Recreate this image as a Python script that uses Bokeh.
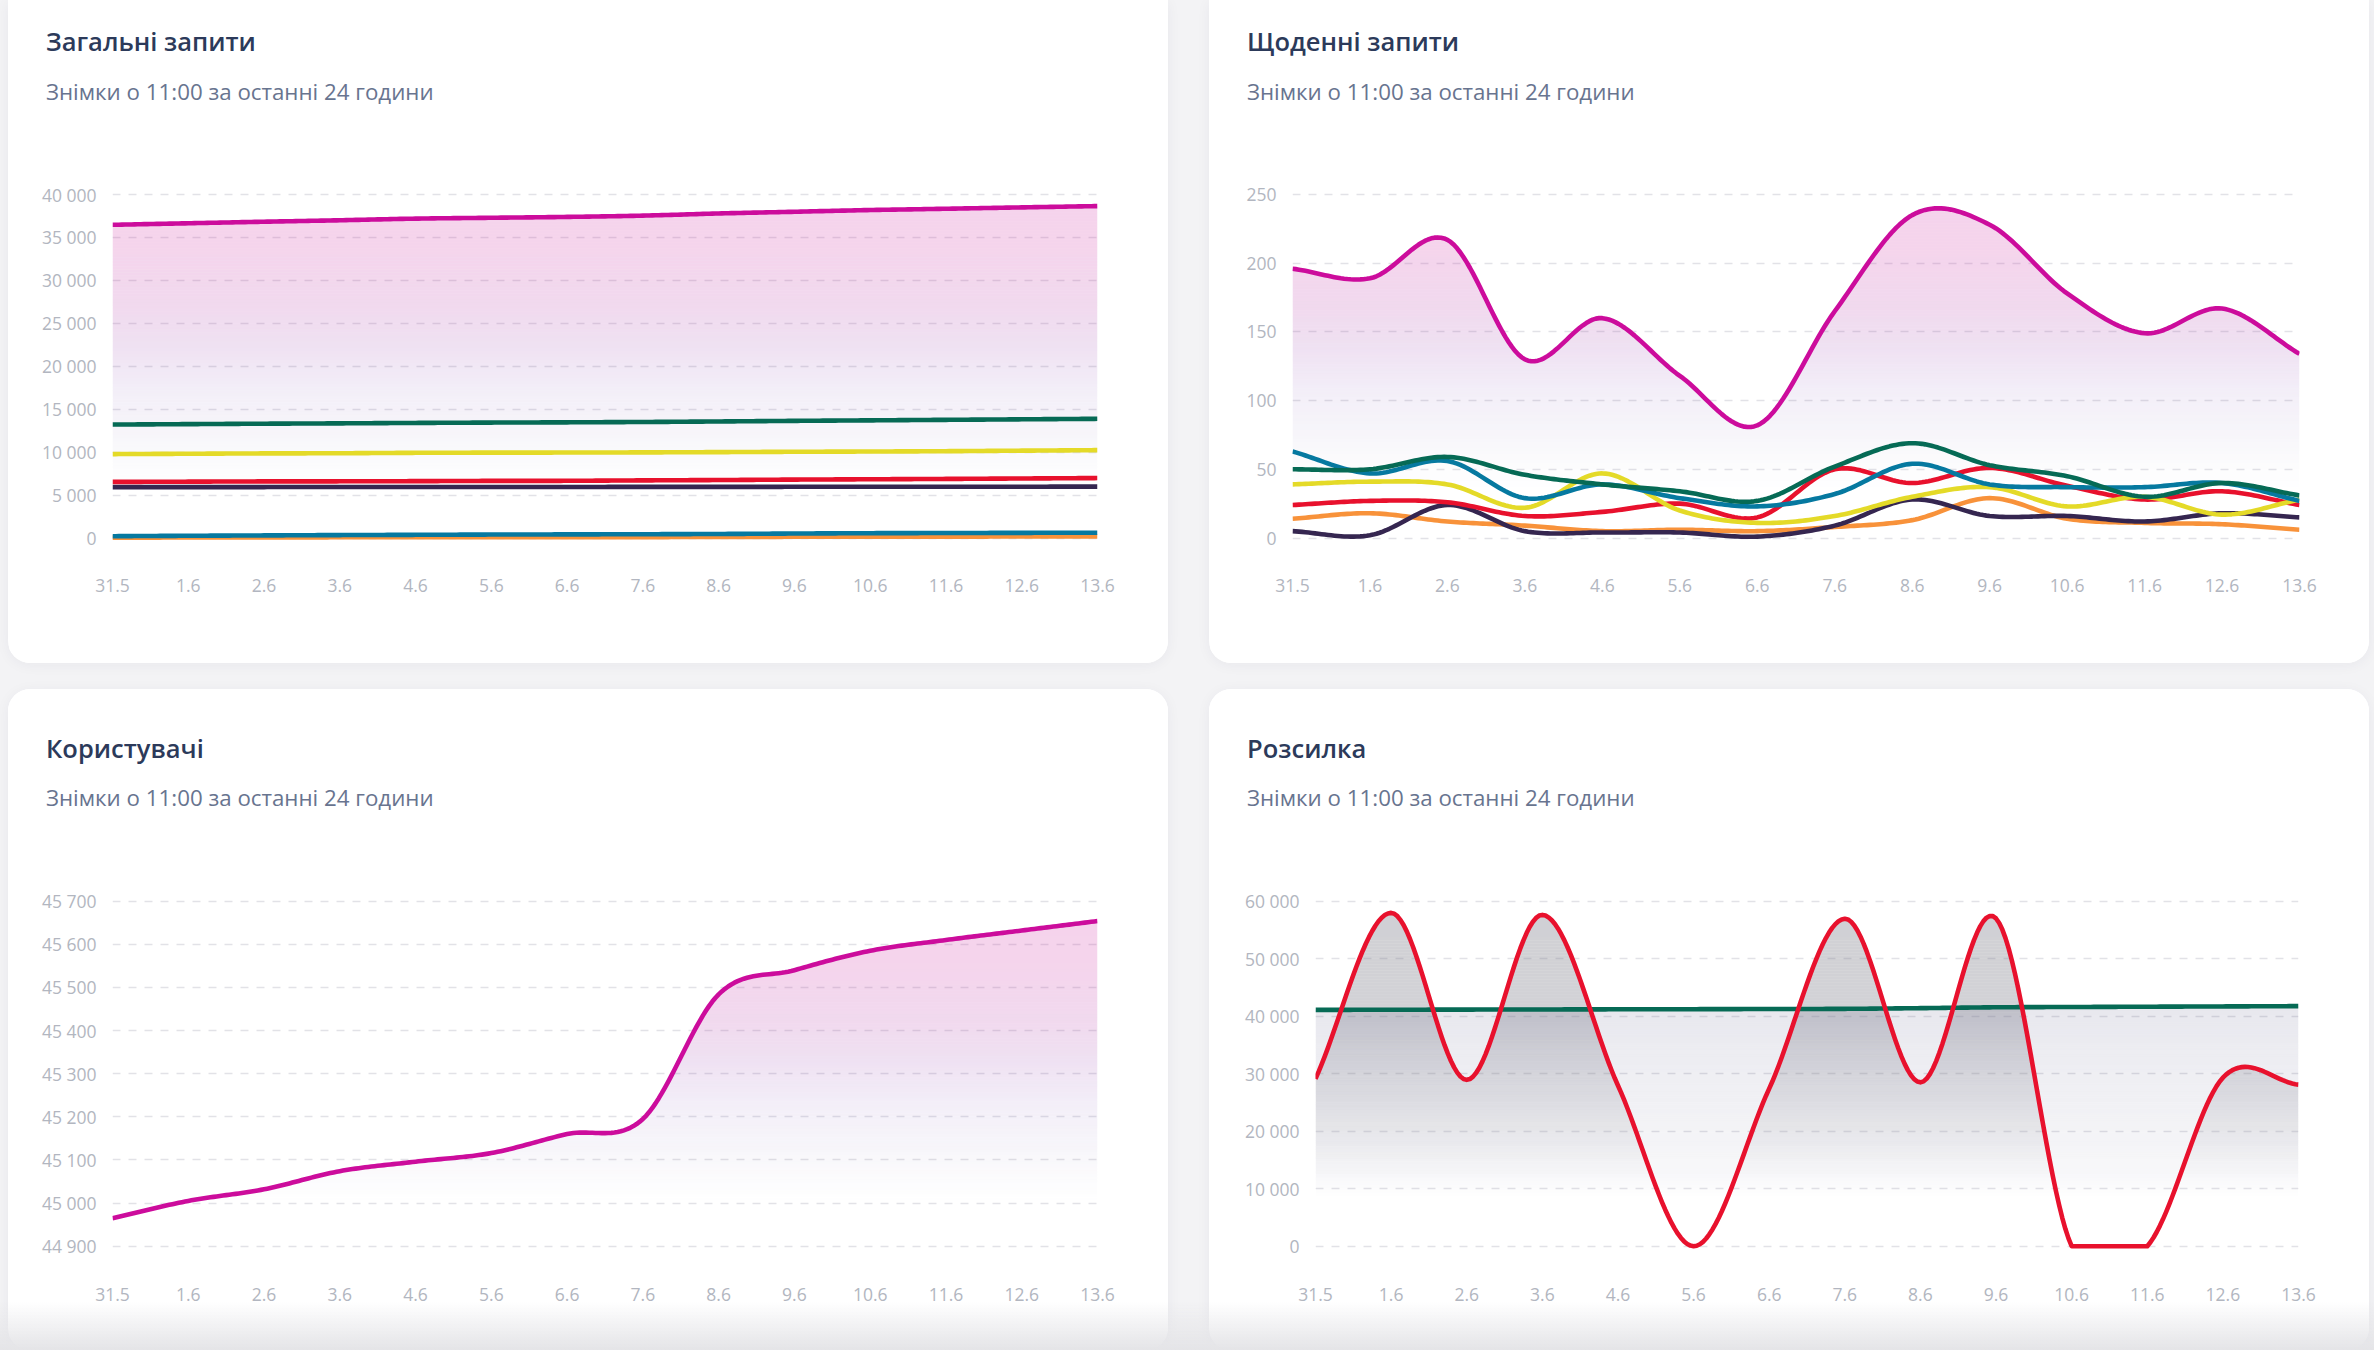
import numpy as np
from bokeh.plotting import figure
from bokeh.layouts import row, column
from bokeh.models import Range1d, FixedTicker, Spacer, Div, GlobalInlineStyleSheet
from bokeh.embed import file_html
from bokeh.resources import INLINE

# ---------------------------------------------------------------- data
dates = ["31.5", "1.6", "2.6", "3.6", "4.6", "5.6", "6.6",
         "7.6", "8.6", "9.6", "10.6", "11.6", "12.6", "13.6"]

# Загальні запити (running totals)
total_magenta = [36470, 36650, 36830, 37000, 37190, 37290, 37390, 37540, 37790, 37990, 38190, 38340, 38500, 38650]
total_green = [13210, 13260, 13310, 13350, 13400, 13440, 13470, 13510, 13570, 13640, 13700, 13760, 13820, 13880]
total_yellow = [9770, 9810, 9850, 9870, 9920, 9940, 9950, 9970, 10000, 10040, 10070, 10110, 10170, 10230]
total_red = [6530, 6560, 6590, 6600, 6620, 6650, 6660, 6710, 6750, 6800, 6840, 6880, 6930, 6980]
total_navy = [5920, 5925, 5930, 5935, 5940, 5940, 5945, 5950, 5955, 5960, 5965, 5970, 5975, 5980]
total_teal = [210, 260, 300, 340, 370, 400, 420, 440, 470, 520, 560, 580, 600, 620]
total_orange = [40, 55, 70, 80, 90, 95, 100, 105, 115, 140, 150, 160, 170, 175]

# Щоденні запити (per day)
daily_magenta = [196, 189, 217, 130, 160, 118, 82, 165, 235, 228, 178, 149, 167, 134]
daily_green = [50, 50, 59, 46, 39, 34, 27, 52, 69, 53, 45, 30, 40, 31]
daily_teal = [63, 47, 56, 29, 39, 29, 23, 32, 54, 39, 37, 37, 40, 27]
daily_yellow = [39, 41, 39, 22, 47, 20, 11, 16, 30, 37, 23, 30, 17, 28]
daily_red = [24, 27, 26, 16, 19, 25, 15, 50, 40, 51, 38, 28, 34, 24]
daily_navy = [5, 2, 24, 5, 4, 4, 1, 9, 28, 16, 16, 12, 18, 15]
daily_orange = [14, 18, 12, 9, 5, 6, 5, 8, 13, 29, 14, 11, 10, 6]

# Користувачі
users = [44965, 45005, 45032, 45074, 45096, 45116, 45160, 45195, 45484, 45540, 45585, 45610, 45632, 45654]

# Розсилка
mailing_sent = [29100, 57970, 28930, 57620, 27950, 0, 27400, 56950, 28500, 57000, 0, 0, 29300, 28100]
mailing_subscribers = [41100, 41120, 41150, 41170, 41200, 41220, 41250, 41280, 41400, 41550, 41600, 41650, 41700, 41750]

total_ticks = [0, 5000, 10000, 15000, 20000, 25000, 30000, 35000, 40000]
daily_ticks = [0, 50, 100, 150, 200, 250]
users_ticks = [44900, 45000, 45100, 45200, 45300, 45400, 45500, 45600, 45700]
mailing_ticks = [0, 10000, 20000, 30000, 40000, 50000, 60000]

TITLE_TEXT = ["Загальні запити", "Щоденні запити", "Користувачі", "Розсилка"]
SUBTITLE = "Знімки о 11:00 за останні 24 години"

# ---------------------------------------------------------------- style
MAGENTA = "#cc0c9c"
GREEN = "#066a55"
YELLOW = "#e4da28"
RED = "#e8112d"
NAVY = "#352650"
TEAL = "#0679a0"
ORANGE = "#f8923a"

FONT = "Open Sans"
TITLE_COLOR = "#2c3a5a"
SUB_COLOR = "#68748f"
TICK_COLOR = "#b2b6c0"
GRID_COLOR = "#e2e2e7"
PAGE_BG = "#f3f3f5"
LINE_W = 4.6
CARD_W = 1160
TITLE_PX = 25.5
SUB_PX = 22.3


def smooth(values, floor=None, per=24):
    """Cubic Hermite (Catmull-Rom) path through the points at x = 0..n-1."""
    y = np.asarray(values, dtype=float)
    n = len(y)
    m = np.empty(n)
    m[1:-1] = (y[2:] - y[:-2]) / 2.0
    m[0] = y[1] - y[0]
    m[-1] = y[-1] - y[-2]
    t = np.arange(per) / per
    h00 = 2 * t**3 - 3 * t**2 + 1
    h10 = t**3 - 2 * t**2 + t
    h01 = -2 * t**3 + 3 * t**2
    h11 = t**3 - t**2
    xs, ys = [], []
    for i in range(n - 1):
        xs.append(i + t)
        ys.append(h00 * y[i] + h10 * m[i] + h01 * y[i + 1] + h11 * m[i + 1])
    xs.append(np.array([n - 1.0]))
    ys.append(np.array([y[-1]]))
    xs = np.concatenate(xs)
    ys = np.concatenate(ys)
    if floor is not None:
        ys = np.maximum(ys, floor)
    return xs, ys


def hex_rgb(h):
    return np.array([int(h[i:i + 2], 16) for i in (1, 3, 5)], dtype=float)


PINK_STOPS = [(0.0, "#f5d3ec"), (0.12, "#f5d4ec"), (0.30, "#f1d9ee"), (0.42, "#efe1f2"),
              (0.55, "#f3eef8"), (0.69, "#f7f6fa"), (0.80, "#fdfdfe"), (0.86, "#ffffff")]


def pink_shade(t):
    ts = [s[0] for s in PINK_STOPS]
    cols = np.array([hex_rgb(s[1]) for s in PINK_STOPS])
    target = np.array([np.interp(t, ts, cols[:, k]) for k in range(3)])
    deficit = 255.0 - target
    mx = deficit.max()
    if mx < 0.6:
        return None
    a = mx / (255.0 * 0.8)
    c = np.clip(255.0 - deficit / a, 0, 255)
    return "#%02x%02x%02x" % tuple(int(round(v)) for v in c), a


def ramp(color, stops):
    ts = [s[0] for s in stops]
    al = [s[1] for s in stops]

    def shade(t):
        a = float(np.interp(t, ts, al))
        return None if a < 0.004 else (color, a)
    return shade


def gradient_area(p, xs, ys, base, shade, bands=110):
    top = ys.max()
    edges = np.linspace(base, top, bands + 1)
    for lo, hi in zip(edges[:-1], edges[1:]):
        t = (top - 0.5 * (lo + hi)) / (top - base)
        s = shade(t)
        if s is None:
            continue
        color, a = s
        p.varea(x=xs, y1=np.full(xs.shape, lo), y2=np.clip(ys, lo, hi),
                fill_color=color, fill_alpha=a)


def fmt(v):
    return f"{v:,}".replace(",", " ")


def header(title, height, title_base):
    """Card heading: title and subtitle, positioned by their baselines."""
    asc = 0.888  # baseline offset (em) of Open Sans at line-height 1
    t_top = title_base - asc * TITLE_PX
    s_top = title_base + 49 - asc * SUB_PX
    common = "position:absolute;left:38px;font-family:'Open Sans',sans-serif;line-height:1;white-space:nowrap;"
    html = (
        f'<div style="position:relative;width:{CARD_W}px;height:{height}px;">'
        f'<div style="{common}top:{t_top:.1f}px;font-size:{TITLE_PX}px;font-weight:600;color:{TITLE_COLOR};">{title}</div>'
        f'<div style="{common}top:{s_top:.1f}px;font-size:{SUB_PX}px;font-weight:400;color:{SUB_COLOR};">{SUBTITLE}</div>'
        '</div>'
    )
    return Div(text=html, width=CARD_W, height=height, margin=(0, 0, 0, 0),
               styles={"background-color": "white"})


def chart(height, fl, fr, gy_top, gy_bot, ticks):
    y_lo, y_hi = ticks[0], ticks[-1]
    pad = 5
    top_b = int(round(gy_top - pad))
    bot_b = int(round(gy_bot + pad))
    u = (y_hi - y_lo) / (gy_bot - gy_top)
    yr = Range1d(y_lo - (bot_b - gy_bot) * u, y_hi + (gy_top - top_b) * u)
    n_last = len(dates) - 1
    p = figure(width=CARD_W, height=height, x_range=Range1d(0, n_last), y_range=yr,
               output_backend="svg", toolbar_location=None,
               min_border_left=fl, min_border_right=CARD_W - fr,
               min_border_top=top_b, min_border_bottom=height - bot_b)
    p.outline_line_color = None
    p.background_fill_color = "white"
    p.border_fill_color = "white"

    yt = FixedTicker(ticks=ticks)
    p.yaxis.ticker = yt
    p.ygrid.ticker = yt
    p.yaxis.major_label_overrides = {t: fmt(t) for t in ticks}
    xt = FixedTicker(ticks=list(range(len(dates))))
    p.xaxis.ticker = xt
    p.xaxis.major_label_overrides = {i: d for i, d in enumerate(dates)}

    for ax in (p.xaxis[0], p.yaxis[0]):
        ax.axis_line_color = None
        ax.major_tick_line_color = None
        ax.minor_tick_line_color = None
        ax.major_tick_in = 0
        ax.major_tick_out = 0
        ax.major_label_text_font = FONT
        ax.major_label_text_font_size = "17.5px"
        ax.major_label_text_color = TICK_COLOR
    p.yaxis.major_label_standoff = 16
    p.xaxis.major_label_standoff = 36

    p.xgrid.grid_line_color = None
    p.ygrid.grid_line_color = GRID_COLOR
    p.ygrid.grid_line_width = 1.6
    p.ygrid.grid_line_dash = "8 8"
    return p


def draw_line(p, values, color, floor=0):
    xs, ys = smooth(values, floor=floor)
    p.line(xs, ys, line_color=color, line_width=LINE_W, line_join="round")


def make_card(head, body, top_card):
    radius = "0 0 22px 22px" if top_card else "22px"
    return column(head, body, spacing=0,
                  styles={"border-radius": radius, "overflow": "hidden", "background-color": "white",
                          "box-shadow": "0 2px 14px rgba(30, 30, 70, 0.05)"})


# ---------------------------------------------------------------- cards
TOP_H, TOP_HEAD = 663, 130
BOT_H, BOT_HEAD = 661, 148

p_total = chart(TOP_H - TOP_HEAD, 104, 1089, 194.0 - TOP_HEAD, 537.5 - TOP_HEAD, total_ticks)
mx, my = smooth(total_magenta, floor=0)
gradient_area(p_total, mx, my, 0, pink_shade)
for vals, col in [(total_orange, ORANGE), (total_teal, TEAL), (total_navy, NAVY), (total_red, RED),
                  (total_yellow, YELLOW), (total_green, GREEN), (total_magenta, MAGENTA)]:
    draw_line(p_total, vals, col)

p_daily = chart(TOP_H - TOP_HEAD, 83, 1090, 194.0 - TOP_HEAD, 537.5 - TOP_HEAD, daily_ticks)
mx, my = smooth(daily_magenta, floor=0)
gradient_area(p_daily, mx, my, 0, pink_shade)
for vals, col in [(daily_orange, ORANGE), (daily_navy, NAVY), (daily_red, RED), (daily_yellow, YELLOW),
                  (daily_teal, TEAL), (daily_green, GREEN), (daily_magenta, MAGENTA)]:
    draw_line(p_daily, vals, col)

p_users = chart(BOT_H - BOT_HEAD, 104, 1089, 211.7 - BOT_HEAD, 556.7 - BOT_HEAD, users_ticks)
ux, uy = smooth(users)
gradient_area(p_users, ux, uy, p_users.y_range.start, pink_shade)
draw_line(p_users, users, MAGENTA, floor=None)

p_mail = chart(BOT_H - BOT_HEAD, 106, 1089, 211.7 - BOT_HEAD, 556.7 - BOT_HEAD, mailing_ticks)
sx, sy = smooth(mailing_sent, floor=0)
bx, by = smooth(mailing_subscribers, floor=0)
gradient_area(p_mail, sx, sy, 0, ramp("#7c7c88", [(0.0, 0.36), (0.30, 0.34), (0.48, 0.22),
                                                  (0.66, 0.10), (0.80, 0.0)]))
gradient_area(p_mail, bx, by, 0, ramp("#3c3c70", [(0.0, 0.12), (0.27, 0.085), (0.50, 0.063),
                                                  (0.71, 0.036), (0.80, 0.0)]))
draw_line(p_mail, mailing_subscribers, GREEN)
draw_line(p_mail, mailing_sent, RED)

card_total = make_card(header(TITLE_TEXT[0], TOP_HEAD, 51.7), p_total, True)
card_daily = make_card(header(TITLE_TEXT[1], TOP_HEAD, 51.7), p_daily, True)
card_users = make_card(header(TITLE_TEXT[2], BOT_HEAD, 69.2), p_users, False)
card_mail = make_card(header(TITLE_TEXT[3], BOT_HEAD, 69.2), p_mail, False)

# ---------------------------------------------------------------- page
page_css = GlobalInlineStyleSheet(css=f"""
html, body {{ margin: 0; padding: 0; background: {PAGE_BG}; overflow: hidden; }}
body::after {{ content: ""; position: fixed; left: 0; right: 0; bottom: 0; height: 48px;
  background: linear-gradient(rgba(228, 228, 231, 0), rgba(228, 228, 231, 1));
  pointer-events: none; z-index: 10; }}
""")

top_row = row(Spacer(width=8, height=TOP_H), card_total, Spacer(width=41, height=TOP_H), card_daily)
bottom_row = row(Spacer(width=8, height=BOT_H), card_users, Spacer(width=41, height=BOT_H), card_mail)
root = column(top_row, Spacer(width=2374, height=26), bottom_row,
              styles={"background-color": PAGE_BG})
root.stylesheets = [page_css]

open("out.html", "w").write(file_html(root, INLINE))
